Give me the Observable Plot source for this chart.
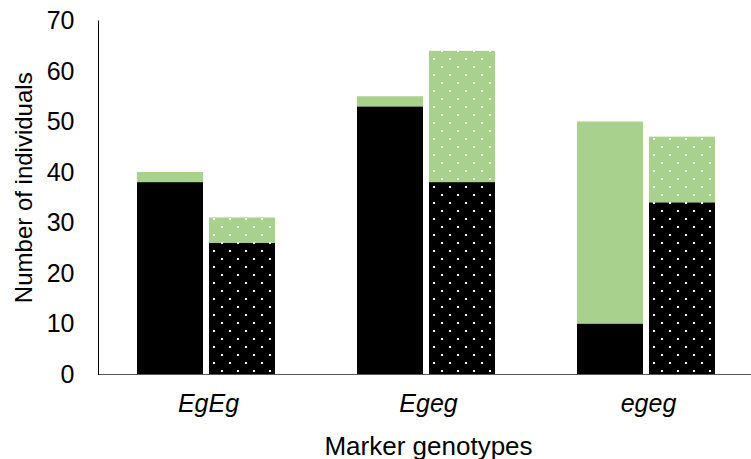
<!DOCTYPE html>
<html><head><meta charset="utf-8">
<script src="https://cdn.jsdelivr.net/npm/d3@7"></script>
<script src="https://cdn.jsdelivr.net/npm/@observablehq/plot@0.6"></script>
<style>body{margin:0;background:#fff} svg{display:block}</style>
</head><body><div id="chart"></div>
<script>
const genotypes = ["EgEg", "Egeg", "egeg"];
const barTypes = ["solid", "dotted"];
const solidBlack = [38, 53, 10];
const solidTotal = [40, 55, 50];
const dottedBlack = [26, 38, 34];
const dottedTotal = [31, 64, 47];
const yTicks = [0, 10, 20, 30, 40, 50, 60, 70];
const layers = ["solid-black", "solid-green", "dotted-black", "dotted-green"];
const yTitle = "Number of individuals";
const xTitle = "Marker genotypes";

const rows = [];
genotypes.forEach((g, i) => {
  rows.push({genotype: g, bar: "solid", layer: "solid-black", value: solidBlack[i]});
  rows.push({genotype: g, bar: "solid", layer: "solid-green", value: solidTotal[i] - solidBlack[i]});
  rows.push({genotype: g, bar: "dotted", layer: "dotted-black", value: dottedBlack[i]});
  rows.push({genotype: g, bar: "dotted", layer: "dotted-green", value: dottedTotal[i] - dottedBlack[i]});
});

const chart = Plot.plot({
  width: 751, height: 459,
  marginLeft: 97, marginRight: 0, marginTop: 20.5, marginBottom: 85,
  style: {fontFamily: "'Liberation Sans', Arial, sans-serif", fontSize: "25px", color: "#000", background: "#fff"},
  fx: {domain: genotypes, range: [97, 758.5], padding: 0, label: null},
  x: {domain: barTypes, paddingInner: 0.082, paddingOuter: 0.551, align: 0.48, axis: null},
  y: {domain: [0, 70]},
  color: {domain: layers, range: ["#000000", "#A9D18E", "url(#dotBlack)", "url(#dotGreen)"]},
  marks: [
    Plot.barY(rows, {fx: "genotype", x: "bar", y: "value", fill: "layer"}),
    Plot.ruleY([0], {stroke: "#595959", strokeWidth: 1}),
    Plot.frame({anchor: "left", facetAnchor: "left", stroke: "#000"}),
    Plot.axisY(yTicks, {tickSize: 0, tickPadding: 24, fontSize: 25, label: null}),
    Plot.text([yTitle], {text: d => d, frameAnchor: "left", facetAnchor: "left", rotate: -90, textAnchor: "middle", lineAnchor: "top", dx: -84, dy: -10, fontSize: 24}),
    Plot.axisFx({anchor: "bottom", tickSize: 0, tickPadding: 19.5, fontSize: 25, fontStyle: "italic", label: null}),
    Plot.axisFx({anchor: "bottom", ticks: [], tickSize: 0, fontSize: 26, label: xTitle, labelAnchor: "center", labelOffset: 80})
  ]
});

const defs = d3.select(chart).insert("defs", ":first-child");
[["dotBlack", "#000000"], ["dotGreen", "#A9D18E"]].forEach(([id, bg]) => {
  const p = defs.append("pattern").attr("id", id).attr("patternUnits", "userSpaceOnUse")
    .attr("width", 16).attr("height", 16);
  p.append("rect").attr("width", 16).attr("height", 16).attr("fill", bg);
  p.append("rect").attr("x", 4).attr("y", 10).attr("width", 2).attr("height", 2).attr("fill", "#fff");
  p.append("rect").attr("x", 12).attr("y", 2).attr("width", 2).attr("height", 2).attr("fill", "#fff");
});

document.getElementById("chart").appendChild(chart);
</script>
</body></html>
